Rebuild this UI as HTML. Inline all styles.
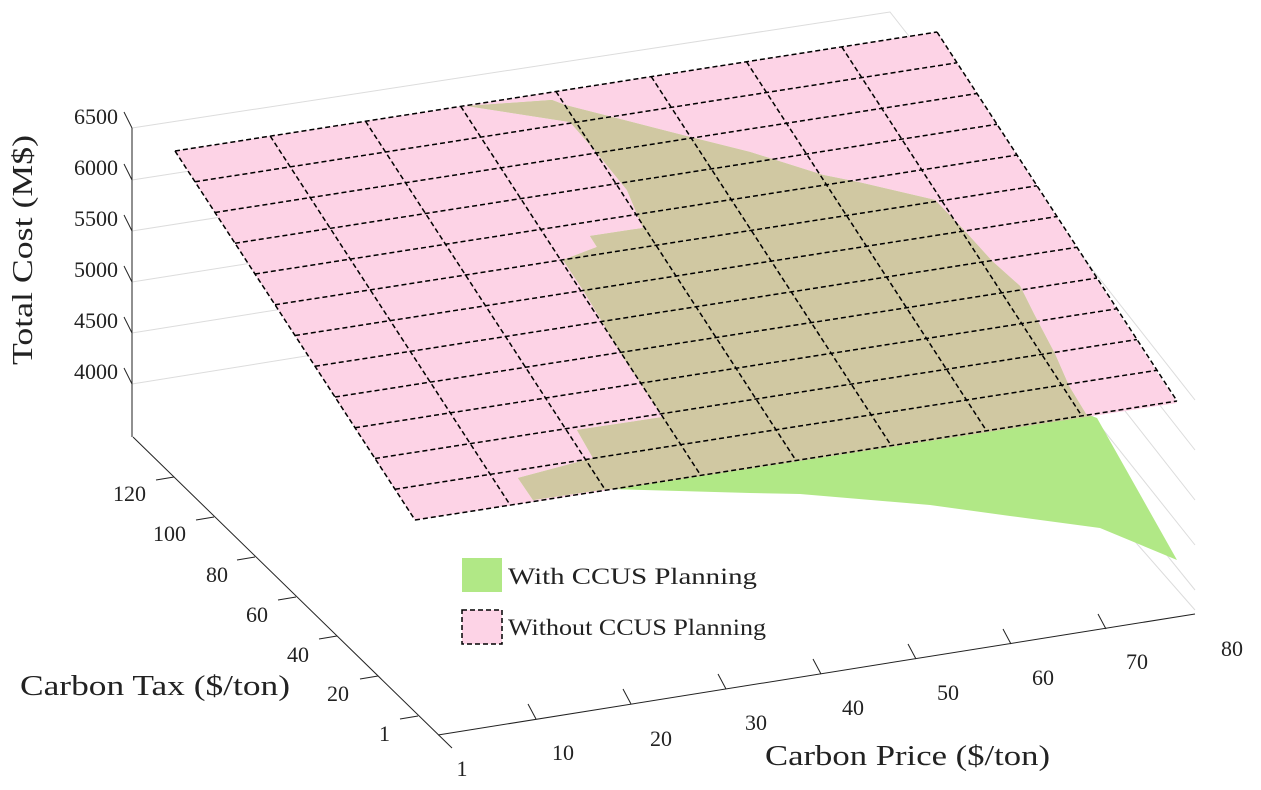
<!DOCTYPE html>
<html><head><meta charset="utf-8"><style>
html,body{margin:0;padding:0;background:#fff;}
svg{display:block;font-family:"Liberation Serif",serif;fill:#222;}
</style></head><body>
<svg width="1261" height="790" viewBox="0 0 1261 790" xmlns="http://www.w3.org/2000/svg">
<defs>
<clipPath id="pc"><polygon points="175,151 937,32 1177,403 415,520"/></clipPath>
</defs>
<g stroke="#dcdcdc" stroke-width="1" fill="none">
<polyline points="132,128 890,12 1195,400"/>
<polyline points="132,180 890,62 1195,450"/>
<polyline points="132,231 890,112 1195,500"/>
<polyline points="132,282 890,162 1195,545"/>
<polyline points="132,333 890,212 1195,590"/>
<polyline points="132,384 890,262 1195,610"/>
</g>
<g stroke="#222" stroke-width="1" fill="none">
<line x1="132" y1="128" x2="132" y2="437"/>
<line x1="133" y1="437" x2="452" y2="748"/>
<line x1="438" y1="735" x2="1195" y2="614"/>
<line x1="132" y1="128" x2="124" y2="112"/>
<line x1="132" y1="180" x2="124" y2="164"/>
<line x1="132" y1="231" x2="124" y2="215"/>
<line x1="132" y1="282" x2="124" y2="266"/>
<line x1="132" y1="333" x2="124" y2="317"/>
<line x1="132" y1="384" x2="124" y2="368"/>
<line x1="174" y1="477" x2="156" y2="480"/>
<line x1="214" y1="517" x2="196" y2="520"/>
<line x1="255" y1="557" x2="237" y2="560"/>
<line x1="296" y1="597" x2="278" y2="600"/>
<line x1="337" y1="636" x2="319" y2="639"/>
<line x1="378" y1="676" x2="360" y2="679"/>
<line x1="418" y1="716" x2="400" y2="719"/>
<line x1="536" y1="719" x2="528" y2="704"/>
<line x1="631" y1="704" x2="623" y2="689"/>
<line x1="726" y1="689" x2="718" y2="674"/>
<line x1="821" y1="674" x2="813" y2="659"/>
<line x1="916" y1="659" x2="908" y2="644"/>
<line x1="1011" y1="644" x2="1003" y2="629"/>
<line x1="1106" y1="629" x2="1098" y2="614"/>
</g>
<g font-size="22">
<text x="118" y="124" text-anchor="end">6500</text>
<text x="118" y="175" text-anchor="end">6000</text>
<text x="118" y="226" text-anchor="end">5500</text>
<text x="118" y="277" text-anchor="end">5000</text>
<text x="118" y="328" text-anchor="end">4500</text>
<text x="118" y="379" text-anchor="end">4000</text>
<text x="146" y="501" text-anchor="end">120</text>
<text x="186" y="541" text-anchor="end">100</text>
<text x="228" y="582" text-anchor="end">80</text>
<text x="268" y="622" text-anchor="end">60</text>
<text x="309" y="662" text-anchor="end">40</text>
<text x="349" y="701" text-anchor="end">20</text>
<text x="390" y="741" text-anchor="end">1</text>
<text x="462" y="776" text-anchor="middle">1</text>
<text x="563" y="760" text-anchor="middle">10</text>
<text x="661" y="746" text-anchor="middle">20</text>
<text x="756" y="730" text-anchor="middle">30</text>
<text x="853" y="715" text-anchor="middle">40</text>
<text x="948" y="700" text-anchor="middle">50</text>
<text x="1043" y="685" text-anchor="middle">60</text>
<text x="1137" y="669" text-anchor="middle">70</text>
<text x="1232" y="656" text-anchor="middle">80</text>
</g>
<g font-size="29">
<text transform="translate(32,365) rotate(-90)" textLength="230" lengthAdjust="spacingAndGlyphs">Total Cost (M$)</text>
<text x="20" y="695" textLength="270" lengthAdjust="spacingAndGlyphs">Carbon Tax ($/ton)</text>
<text x="765" y="765" textLength="285" lengthAdjust="spacingAndGlyphs">Carbon Price ($/ton)</text>
</g>
<polygon fill="#fdd3e6" points="175,151 937,32 1177,403 415,520"/>
<polygon fill="#b1e886" points="467,106 552,100 565,105 690,137 750,152 823,175 858,182 935,200 963,229 992,261 1020,286 1034,314 1055,354 1069,386 1086,414 1097,418 1177,560 1100,528 1010,516 930,505 800,494 750,493 607,489 533,500 518,478 593,458 577,430 663,417 643,387 623,357 603,323 583,290 563,260 597,247 590,236 643,228 627,190 597,153 570,122"/>
<polygon clip-path="url(#pc)" fill="#d0c8a2" points="467,106 552,100 565,105 690,137 750,152 823,175 858,182 935,200 963,229 992,261 1020,286 1034,314 1055,354 1069,386 1086,414 1097,418 1177,560 1100,528 1010,516 930,505 800,494 750,493 607,489 533,500 518,478 593,458 577,430 663,417 643,387 623,357 603,323 583,290 563,260 597,247 590,236 643,228 627,190 597,153 570,122"/>
<g stroke="#000" stroke-width="1.5" stroke-dasharray="5,3" fill="none" id="grid"></g>
<g font-size="23">
<rect x="462" y="558" width="40" height="34" fill="#b1e886"/>
<rect x="462" y="610" width="40" height="34" fill="#fdd3e6" stroke="#000" stroke-width="1.5" stroke-dasharray="5,3"/>
<text x="508" y="584" textLength="249" lengthAdjust="spacingAndGlyphs">With CCUS Planning</text>
<text x="508" y="635" textLength="258" lengthAdjust="spacingAndGlyphs">Without CCUS Planning</text>
</g>
<script>
(function(){
var g=document.getElementById('grid');var ns='http://www.w3.org/2000/svg';
var TL=[175,151],TR=[937,32],BL=[415,520];
function P(u,v){return [TL[0]+u*(TR[0]-TL[0])+v*(BL[0]-TL[0]),TL[1]+u*(TR[1]-TL[1])+v*(BL[1]-TL[1])];}
function L(a,b){var l=document.createElementNS(ns,'line');l.setAttribute('x1',a[0]);l.setAttribute('y1',a[1]);l.setAttribute('x2',b[0]);l.setAttribute('y2',b[1]);g.appendChild(l);}
for(var i=0;i<=8;i++)L(P(i/8,0),P(i/8,1));
for(var j=0;j<=12;j++)L(P(0,j/12),P(1,j/12));
})();
</script>
</svg>
</body></html>
